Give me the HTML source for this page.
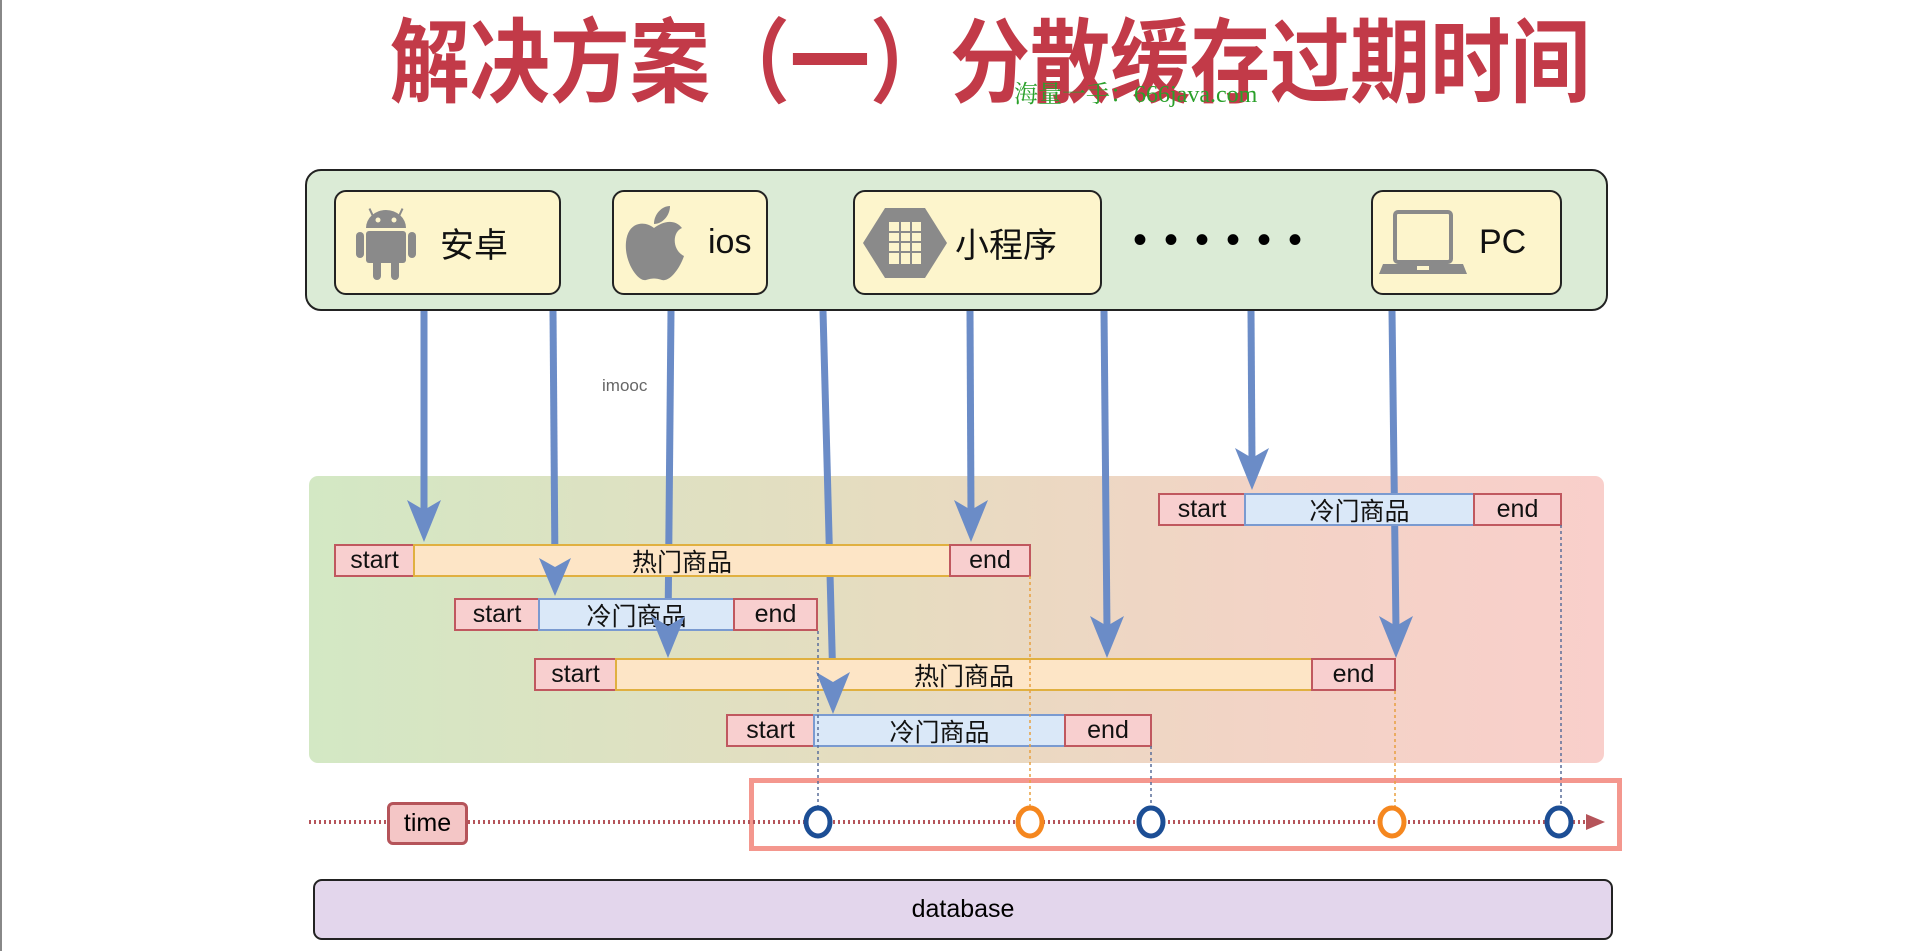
<!DOCTYPE html>
<html><head><meta charset="utf-8">
<style>
body{margin:0;width:1920px;height:951px;background:#fff;position:relative;overflow:hidden;font-family:"Liberation Sans","Noto Sans CJK SC",sans-serif;}
.a{position:absolute;box-sizing:border-box;}
.title{left:990px;top:12px;transform:translateX(-50%) scaleX(0.87);font-size:92px;font-weight:bold;color:#c23a48;line-height:104px;white-space:nowrap;}
.wm{left:1014px;top:74px;font-size:24px;color:#2aa02a;font-family:"Liberation Serif","Noto Serif CJK SC",serif;white-space:nowrap;}
.top{left:305px;top:169px;width:1303px;height:142px;background:#dbebd6;border:2px solid #222;border-radius:16px;}
.cb{background:#fdf5cc;border:2px solid #222;border-radius:12px;top:190px;height:105px;display:flex;align-items:center;font-size:34px;color:#111;}
.band{left:309px;top:476px;width:1295px;height:287px;border-radius:9px;background:linear-gradient(90deg,#d3e8c4 0%,#e6dcc0 45%,#f3d3c6 75%,#f9cfcb 100%);}
.s{height:33px;display:flex;align-items:center;justify-content:center;font-size:25px;color:#111;}
.st{background:#f8cfcf;border:2px solid #c0585f;}
.hot{background:#fde5c6;border:2px solid #e0b040;}
.cold{background:#dae8f8;border:2px solid #7a9ad0;}
.db{left:313px;top:879px;width:1300px;height:61px;background:#e3d6ec;border:2px solid #222;border-radius:9px;display:flex;align-items:center;justify-content:center;font-size:25px;}
</style></head><body>
<div class="a" style="left:0;top:0;width:2px;height:951px;background:#888"></div>
<div class="a title">解决方案（一）分散缓存过期时间</div>
<div class="a wm">海量一手：666java.com</div>

<div class="a top"></div>
<div class="a cb" style="left:334px;width:227px;"><svg width="100" height="90" viewBox="0 0 100 90"><g fill="#8a8a8a"><path d="M30 30 a20 18 0 0 1 40 0z"/><rect x="30" y="33" width="40" height="32" rx="3"/><rect x="20" y="34" width="8" height="26" rx="4"/><rect x="72" y="34" width="8" height="26" rx="4"/><rect x="37" y="60" width="8" height="22" rx="4"/><rect x="55" y="60" width="8" height="22" rx="4"/><rect x="35" y="10" width="2" height="12" transform="rotate(-25 36 16)"/><rect x="63" y="10" width="2" height="12" transform="rotate(25 64 16)"/></g><circle cx="42" cy="22" r="2.5" fill="#fdf5cc"/><circle cx="58" cy="22" r="2.5" fill="#fdf5cc"/></svg><span style="margin-left:4px">安卓</span></div>
<div class="a cb" style="left:612px;width:156px;"><svg width="80" height="90" viewBox="0 0 80 90"><path fill="#8a8a8a" d="M40 30 C30 22 14 24 12 44 C10 64 24 84 32 82 C38 80 42 80 48 82 C56 84 66 70 70 58 C58 52 58 34 68 30 C60 20 48 24 40 30z M40 26 C40 16 48 8 56 8 C56 18 48 26 40 26z"/></svg><span style="margin-left:14px">ios</span></div>
<div class="a cb" style="left:853px;width:249px;"><svg width="100" height="90" viewBox="0 0 100 90"><polygon points="30,10 70,10 92,45 70,80 30,80 8,45" fill="#8a8a8a"/><rect x="34" y="24" width="32" height="42" fill="#fdf5cc"/><g stroke="#8a8a8a" stroke-width="2"><line x1="45" y1="24" x2="45" y2="66"/><line x1="56" y1="24" x2="56" y2="66"/><line x1="34" y1="34" x2="66" y2="34"/><line x1="34" y1="44" x2="66" y2="44"/><line x1="34" y1="54" x2="66" y2="54"/></g></svg><span style="margin-left:0">小程序</span></div>
<div class="a" style="left:1133px;top:218px;font-size:40px;letter-spacing:17px;">••••••</div>
<div class="a cb" style="left:1371px;width:191px;"><svg width="100" height="90" viewBox="0 0 100 90"><rect x="22" y="14" width="56" height="50" rx="3" fill="none" stroke="#8a8a8a" stroke-width="4"/><path d="M10 66 H90 L94 76 H6z" fill="#8a8a8a"/><rect x="44" y="68" width="12" height="4" fill="#fdf5cc"/></svg><span style="margin-left:6px">PC</span></div>

<div class="a band"></div>

<svg class="a" style="left:0;top:0" width="1920" height="951">
<g stroke="#6b8cc7" stroke-width="7" fill="none">
<line x1="424" y1="311" x2="424" y2="515"/>
<line x1="553" y1="311" x2="555" y2="570"/>
<line x1="671" y1="311" x2="668" y2="630"/>
<line x1="823" y1="311" x2="833" y2="686"/>
<line x1="970" y1="311" x2="971" y2="515"/>
<line x1="1104" y1="311" x2="1107" y2="630"/>
<line x1="1251" y1="311" x2="1252" y2="462"/>
<line x1="1392" y1="311" x2="1396" y2="630"/>
</g>
</svg>

<!-- bars -->
<div class="a s st" style="left:1158px;top:493px;width:88px">start</div>
<div class="a s cold" style="left:1244px;top:493px;width:231px">冷门商品</div>
<div class="a s st" style="left:1473px;top:493px;width:89px">end</div>

<div class="a s st" style="left:334px;top:544px;width:81px">start</div>
<div class="a s hot" style="left:413px;top:544px;width:538px">热门商品</div>
<div class="a s st" style="left:949px;top:544px;width:82px">end</div>

<div class="a s st" style="left:454px;top:598px;width:86px">start</div>
<div class="a s cold" style="left:538px;top:598px;width:197px">冷门商品</div>
<div class="a s st" style="left:733px;top:598px;width:85px">end</div>

<div class="a s st" style="left:534px;top:658px;width:83px">start</div>
<div class="a s hot" style="left:615px;top:658px;width:698px">热门商品</div>
<div class="a s st" style="left:1311px;top:658px;width:85px">end</div>

<div class="a s st" style="left:726px;top:714px;width:89px">start</div>
<div class="a s cold" style="left:813px;top:714px;width:253px">冷门商品</div>
<div class="a s st" style="left:1064px;top:714px;width:88px">end</div>

<div class="a" style="left:602px;top:376px;font-size:17px;color:#666">imooc</div>

<div class="a" style="left:749px;top:778px;width:873px;height:73px;border:5px solid #f4978e;"></div>
<div class="a" style="left:387px;top:802px;width:81px;height:43px;background:#f4c6c6;border:3px solid #b5545a;border-radius:6px;display:flex;align-items:center;justify-content:center;font-size:25px;">time</div>

<svg class="a" style="left:0;top:0" width="1920" height="951">
<g fill="#6b8cc7">
<path d="M424 542 l-17 -42 l17 10 l17 -10z"/>
<path d="M555 596 l-16 -38 l16 9 l16 -9z"/>
<path d="M668 658 l-17 -42 l17 10 l17 -10z"/>
<path d="M833 714 l-17 -42 l17 10 l17 -10z"/>
<path d="M971 542 l-17 -42 l17 10 l17 -10z"/>
<path d="M1107 658 l-17 -42 l17 10 l17 -10z"/>
<path d="M1252 490 l-17 -42 l17 10 l17 -10z"/>
<path d="M1396 658 l-17 -42 l17 10 l17 -10z"/>
</g>
<g stroke-width="1.5" stroke-dasharray="3,3">
<line x1="818" y1="631" x2="818" y2="808" stroke="#5a6f9a"/>
<line x1="1030" y1="576" x2="1030" y2="808" stroke="#e8a040"/>
<line x1="1151" y1="746" x2="1151" y2="808" stroke="#5a6f9a"/>
<line x1="1395" y1="691" x2="1395" y2="808" stroke="#e8a040"/>
<line x1="1561" y1="525" x2="1561" y2="808" stroke="#5a6f9a"/>
</g>
<line x1="309" y1="822" x2="387" y2="822" stroke="#b5545a" stroke-width="4" stroke-dasharray="2,3"/>
<line x1="468" y1="822" x2="1588" y2="822" stroke="#b5545a" stroke-width="4" stroke-dasharray="2,3"/>
<path d="M1586 814 L1605 822 L1586 830z" fill="#b5545a"/>
<g fill="#fff" stroke-width="5">
<ellipse cx="818" cy="822" rx="12" ry="14" stroke="#1c4e95"/>
<ellipse cx="1030" cy="822" rx="12" ry="14" stroke="#f5871f"/>
<ellipse cx="1151" cy="822" rx="12" ry="14" stroke="#1c4e95"/>
<ellipse cx="1392" cy="822" rx="12" ry="14" stroke="#f5871f"/>
<ellipse cx="1559" cy="822" rx="12" ry="14" stroke="#1c4e95"/>
</g>
</svg>

<div class="a db">database</div>
</body></html>
